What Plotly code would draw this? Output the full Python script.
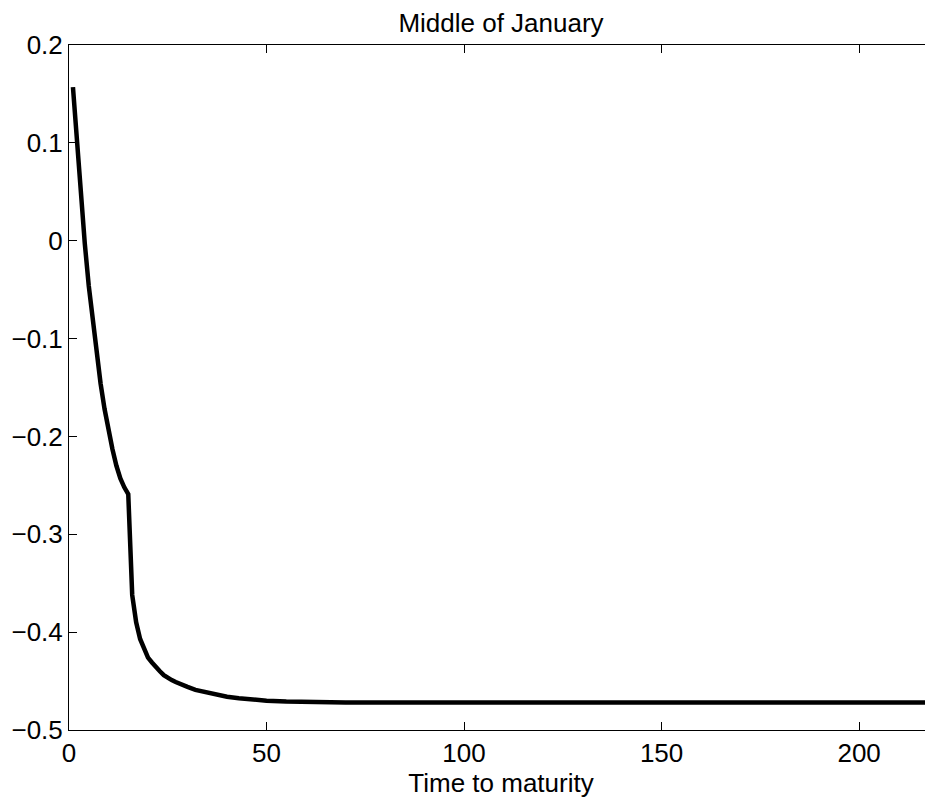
import plotly.graph_objects as go

# Data (time to maturity vs value)
time_to_maturity = [1, 2, 3, 4, 5, 6, 7, 8, 9, 10, 11, 12, 13, 14, 15,
                    16, 17, 18, 19, 20, 21, 22, 23, 24, 25, 26, 27, 28, 29, 30,
                    32, 34, 36, 38, 40, 43, 46, 50, 55, 60, 70, 80, 100, 120,
                    150, 180, 200, 220]
value = [0.157, 0.100, 0.047, -0.003, -0.046, -0.082, -0.116, -0.146, -0.172, -0.194,
         -0.213, -0.230, -0.243, -0.252, -0.259,
         -0.362, -0.390, -0.407, -0.418, -0.426, -0.431, -0.436, -0.440, -0.444, -0.447,
         -0.449, -0.451, -0.453, -0.455, -0.456,
         -0.459, -0.461, -0.463, -0.465, -0.466, -0.4675, -0.469, -0.470, -0.471, -0.4715,
         -0.472, -0.472, -0.472, -0.472, -0.472, -0.472, -0.472, -0.472]

x_ticks = [0, 50, 100, 150, 200]
y_ticks = [0.2, 0.1, 0, -0.1, -0.2, -0.3, -0.4, -0.5]
y_tick_labels = ["0.2", "0.1", "0", "\u22120.1", "\u22120.2", "\u22120.3", "\u22120.4", "\u22120.5"]
title_text = "Middle of January"
x_label = "Time to maturity"

FONT = "Liberation Sans, Arial, Helvetica, sans-serif"
FS = 26
W, H = 925, 795  # page body has an 8px margin inside the 933x803 window

fig = go.Figure()
fig.add_trace(go.Scatter(x=time_to_maturity, y=value, mode="lines",
                         line=dict(color="black", width=4.5),
                         showlegend=False, hoverinfo="skip"))
# invisible trace to hold the right-hand tick axis
fig.add_trace(go.Scatter(x=[time_to_maturity[0]], y=[value[0]], yaxis="y2",
                         mode="markers", marker=dict(opacity=0),
                         showlegend=False, hoverinfo="skip"))

fig.update_layout(
    width=W, height=H,
    margin=dict(l=61, r=0, t=37, b=73, autoexpand=False),
    paper_bgcolor="white", plot_bgcolor="white",
    font=dict(family=FONT, size=FS, color="black"),
    title=dict(text=title_text, x=0.5, xref="paper", xanchor="center",
               y=1 - 15 / H, yref="container", yanchor="middle",
               automargin=False,
               font=dict(family=FONT, size=FS, color="black")),
    xaxis=dict(range=[0, 218.7], tickvals=x_ticks, ticks="inside", ticklen=8,
               tickwidth=1, tickcolor="black", showline=True, linecolor="black",
               linewidth=1, mirror="ticks", showgrid=False, zeroline=False,
               automargin=False,
               tickfont=dict(family=FONT, size=FS, color="black"),
               title=dict(text=x_label, standoff=2,
                          font=dict(family=FONT, size=FS, color="black"))),
    yaxis=dict(range=[-0.5, 0.2], tickvals=y_ticks, ticktext=y_tick_labels,
               ticks="inside", ticklen=8,
               tickwidth=1, tickcolor="black", showline=True, linecolor="black",
               linewidth=1, showgrid=False, zeroline=False, automargin=False,
               tickfont=dict(family=FONT, size=FS, color="black")),
    yaxis2=dict(range=[-0.5, 0.2], tickvals=y_ticks, overlaying="y", side="right",
                ticks="inside", ticklen=3, tickwidth=1, tickcolor="black",
                showline=False, showgrid=False, zeroline=False,
                showticklabels=False, automargin=False),
)

fig.write_html("out.html")
